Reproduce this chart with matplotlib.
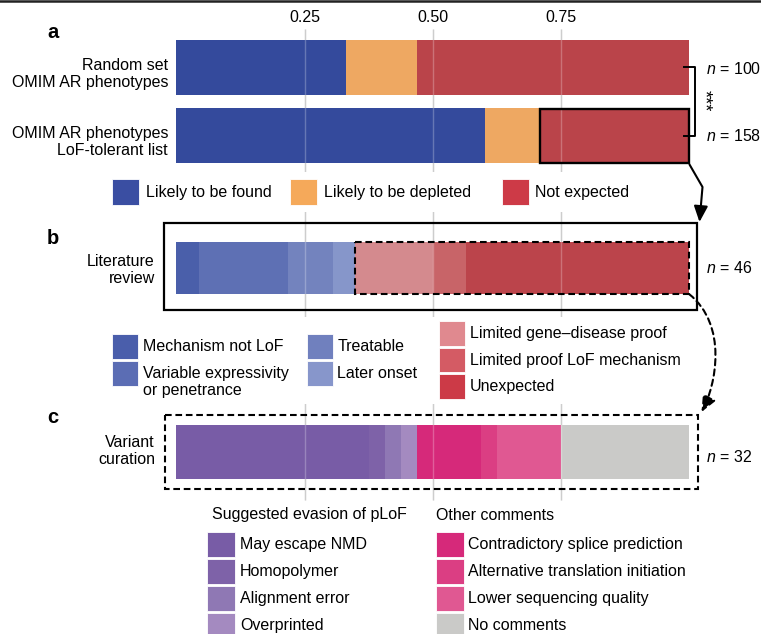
import matplotlib
matplotlib.use('Agg')
import matplotlib.pyplot as plt
import numpy as np
from matplotlib.patches import Rectangle, FancyArrowPatch
from matplotlib.path import Path

plt.rcParams['font.family'] = ['Liberation Sans', 'DejaVu Sans']
plt.rcParams['font.size'] = 11.5
plt.rcParams['mathtext.fontset'] = 'custom'
plt.rcParams['mathtext.it'] = 'Liberation Sans:italic'
plt.rcParams['mathtext.rm'] = 'Liberation Sans'

# ---- data ----
a_rows = ['Random set\nOMIM AR phenotypes', 'OMIM AR phenotypes\nLoF-tolerant list']
a_cats = ['Likely to be found', 'Likely to be depleted', 'Not expected']
a_random = [33, 14, 53]
a_loftol = [95, 17, 46]

b_row = 'Literature\nreview'
b_cats = ['Mechanism not LoF', 'Variable expressivity\nor penetrance', 'Treatable', 'Later onset',
          'Limited gene–disease proof', 'Limited proof LoF mechanism', 'Unexpected']
b_counts = [2, 8, 4, 2, 7, 3, 20]

c_row = 'Variant\ncuration'
c_cats = ['May escape NMD', 'Homopolymer', 'Alignment error', 'Overprinted',
          'Contradictory splice prediction', 'Alternative translation initiation',
          'Lower sequencing quality', 'No comments']
c_counts = [12, 1, 1, 1, 4, 1, 4, 8]
c_groups = ['Suggested evasion of pLoF', 'Other comments']

ticks = [0.25, 0.50, 0.75]

# ---- colours ----
a_bar_col = ['#344A9C', '#EEA862', '#BA444A']
a_leg_col = ['#3A4EA2', '#F5A95A', '#CD3A47']
b_bar_col = ['#4A5FAA', '#5E70B4', '#7383BE', '#8696CA', '#D48A8E', '#C86468', '#BB444B']
b_leg_col = ['#4A5EAB', '#5B6DB4', '#7080BE', '#8796CB', '#E0898F', '#D45B64', '#CC3A47']
c_col = ['#785CA6', '#7E62A8', '#8F78B4', '#A48AC0', '#D6297A', '#DB3E83', '#E05892', '#CACAC8']

W, H = 761, 634
fig = plt.figure(figsize=(W / 100, H / 100), dpi=100)

# main axes: x in fraction units, y in pixel rows
x0px, unit = 176.4, 512.9
ax = fig.add_axes([0, 0, 1, 1])
ax.set_xlim(-x0px / unit, (W - x0px) / unit)
ax.set_ylim(H, 0)
ax.axis('off')

# overlay axes in pixel units for annotations / legends
ov = fig.add_axes([0, 0, 1, 1], zorder=2)
ov.set_xlim(0, W)
ov.set_ylim(H, 0)
ov.axis('off')


def stacked(y, counts, colors, h):
    frac = np.array(counts) / sum(counts)
    left = np.concatenate([[0], np.cumsum(frac)[:-1]])
    ax.barh([y] * len(frac), frac, left=left, height=h, color=colors, lw=0, zorder=2)
    return left, frac


# grid lines
ax.vlines(ticks, 29, 500, color='#BDBDBD', lw=1, zorder=1)
ax.vlines(ticks, 29, 500, color='white', alpha=0.25, lw=1, zorder=3)
for t in ticks:
    ax.text(t, 18, f'{t:.2f}', ha='center', va='center')

# (a)
ya = [67.7, 135.8]
stacked(ya[0], a_random, a_bar_col, 55)
left, frac = stacked(ya[1], a_loftol, a_bar_col, 55)
ax.add_patch(Rectangle((left[2], ya[1] - 27.3), frac[2], 54.6, fill=False, ec='black',
                       lw=1.7, zorder=4))
ov.text(168, 74, a_rows[0], ha='right', va='center', linespacing=1.15)
ov.text(168, 142, a_rows[1], ha='right', va='center', linespacing=1.15)
ov.text(47, 38.5, 'a', fontsize=14.5, fontweight='bold', va='baseline')
ov.plot([684, 695, 695, 684], [66.7, 66.7, 136, 136], color='black', lw=1.4)
ov.text(704, 101, '***', rotation=270, ha='center', va='center', fontsize=13)
ov.text(706, 69, f'$n$ = {sum(a_random)}', va='center')
ov.text(706, 136, f'$n$ = {sum(a_loftol)}', va='center')

# legend (a)
ov.add_patch(Rectangle((105, 172), 595, 40, fc='white', ec='none', zorder=1))
for sx, col, lab in zip([112.3, 290, 501.5], a_leg_col, a_cats):
    ov.add_patch(Rectangle((sx, 179.3), 27, 26, fc=col, ec='white', lw=0.6, zorder=2))
    ov.text(sx + 33.5, 192.5, lab, va='center')

# arrow a -> b
arr1 = FancyArrowPatch(path=Path([(689.5, 164.5), (702.5, 187), (699.5, 222)]),
                       arrowstyle='-|>,head_length=0.8,head_width=0.35', mutation_scale=12,
                       lw=1.5, color='black', zorder=5)
ov.add_patch(arr1)

# (b)
ov.add_patch(Rectangle((164, 222.7), 533.3, 87.3, fill=False, ec='black', lw=1.6, zorder=3))
yb = 268
left, frac = stacked(yb, b_counts, b_bar_col, 52.3)
ax.add_patch(Rectangle((left[4], yb - 26.1), 1 - left[4], 52.2, fill=False, ec='black',
                       lw=1.5, ls=(0, (3.2, 1.8)), zorder=4))
ov.text(155, 270, b_row, ha='right', va='center', linespacing=1.2)
ov.text(47, 243.5, 'b', fontsize=14.5, fontweight='bold', va='baseline')
ov.text(706, 268, f'$n$ = {sum(b_counts)}', va='center')

# legend (b)
ov.add_patch(Rectangle((105, 317), 595, 87, fc='white', ec='none', zorder=1))
b_pos = [(112.3, 334.3), (112.3, 361.3), (306.7, 334.3), (306.7, 361.3),
         (439.3, 321.3), (439.3, 347.7), (439.3, 374.3)]
for (sx, sy), col, lab in zip(b_pos, b_leg_col, b_cats):
    ov.add_patch(Rectangle((sx, sy), 26, 24.5, fc=col, ec='white', lw=0.6, zorder=2))
    if '\n' in lab:
        ov.text(sx + 30.5, sy + 4.5, lab, va='top', linespacing=1.2)
    else:
        ov.text(sx + 30.5, sy + 12.5, lab, va='center')

# dashed arrow b -> c
arr2 = FancyArrowPatch(path=Path([(689, 294), (728, 325), (716, 385), (701.5, 412)],
                                 [Path.MOVETO, Path.CURVE4, Path.CURVE4, Path.CURVE4]),
                       arrowstyle='-|>,head_length=0.8,head_width=0.35', mutation_scale=12,
                       lw=1.5, ls=(0, (3, 2)), color='black', zorder=5)
ov.add_patch(arr2)

# (c)
ov.add_patch(Rectangle((165, 415), 533.3, 74.3, fill=False, ec='black', lw=1.5,
                       ls=(0, (3.2, 1.8)), zorder=3))
yc = 452
stacked(yc, c_counts, c_col, 54)
ov.text(155, 451, c_row, ha='right', va='center', linespacing=1.2)
ov.text(47, 423, 'c', fontsize=14.5, fontweight='bold', va='baseline')
ov.text(706.5, 456.7, f'$n$ = {sum(c_counts)}', va='center')

# legend (c)
ov.text(211.7, 515, c_groups[0], va='center')
ov.text(436, 515, c_groups[1], va='center')
c_rows_y = [532.3, 559, 586, 612.7]
for i, (col, lab) in enumerate(zip(c_col, c_cats)):
    sx = 207.3 if i < 4 else 436
    sy = c_rows_y[i % 4]
    ov.add_patch(Rectangle((sx, sy), 27.5, 24.5, fc=col, ec='white', lw=0.6, zorder=2))
    ov.text(sx + 32.5, sy + 12.5, lab, va='center')

# top rule
ov.plot([0, W], [0.8, 0.8], color='#222222', lw=1.8)

fig.savefig('out.png', dpi=100)
